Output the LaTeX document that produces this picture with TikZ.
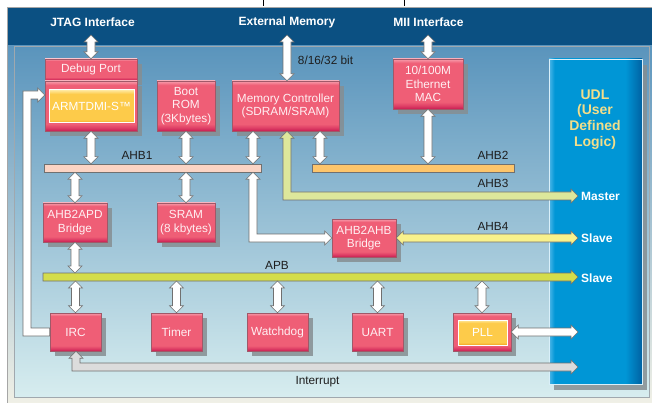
\documentclass[tikz,border=0pt]{standalone}
\usepackage{fontspec}
\setmainfont{Liberation Sans}
\usetikzlibrary{calc,shadows}

\definecolor{outerblue}{HTML}{0B5082}
\definecolor{bgtop}{HTML}{5A94BC}
\definecolor{bgmid}{HTML}{A0CDE0}
\definecolor{bgbot}{HTML}{D7EDEF}
\definecolor{mgtop}{HTML}{5D96BE}
\definecolor{mgmid}{HTML}{B5D5DC}
\definecolor{mgbot}{HTML}{F0F0E6}
\definecolor{framegray}{HTML}{A0A8AE}
\definecolor{ahbone}{HTML}{FBD4C4}
\definecolor{ahbtwo}{HTML}{FDC56B}
\definecolor{ahbthree}{HTML}{DDE79B}
\definecolor{ahbfour}{HTML}{F8F18C}
\definecolor{apbc}{HTML}{D4DD4B}
\definecolor{intgray}{HTML}{DCDCDC}
\definecolor{arrowline}{HTML}{707070}
\definecolor{rlight}{HTML}{F7A0AE}
\definecolor{rmid}{HTML}{EF5E76}
\definecolor{rmidb}{HTML}{DC3C64}
\definecolor{rdark}{HTML}{C81D52}
\definecolor{rborder}{HTML}{A05868}
\definecolor{ylight}{HTML}{FFE9A0}
\definecolor{ymid}{HTML}{FDCB4A}
\definecolor{ydark}{HTML}{F0A01E}
\definecolor{ulight}{HTML}{4DB6E8}
\definecolor{umid}{HTML}{0096D6}
\definecolor{udark}{HTML}{0062A3}
\definecolor{shadowc}{HTML}{868E92}
\definecolor{boxtext}{HTML}{FFEFF2}
\definecolor{udltextc}{HTML}{F2DE8A}
\definecolor{labeltext}{HTML}{1E1E1E}

\pgfdeclareverticalshading{redshade}{100bp}{color(0bp)=(rdark); color(25bp)=(rdark); color(28bp)=(rmidb); color(32bp)=(rmid); color(71bp)=(rmid); color(75bp)=(rlight); color(100bp)=(rlight)}
\pgfdeclareverticalshading{yelshade}{100bp}{color(0bp)=(ydark); color(25bp)=(ydark); color(30bp)=(ymid); color(69bp)=(ymid); color(75bp)=(ylight); color(100bp)=(ylight)}
\pgfdeclarehorizontalshading{udlshade}{100bp}{color(0bp)=(ulight); color(25bp)=(ulight); color(28bp)=(umid); color(66bp)=(umid); color(75bp)=(udark); color(100bp)=(udark)}

\newcommand{\boxfont}{\fontsize{11.8pt}{13.6pt}\selectfont}
\newcommand{\boldlab}{\fontsize{12pt}{14pt}\selectfont\bfseries}

\tikzset{
  redbox/.style={shade, shading=redshade, draw=rborder, line width=0.5pt,
    text=boxtext, font=\boxfont, align=center, inner sep=0pt,
    general shadow={fill=shadowc, fill opacity=0.85, shadow xshift=5pt, shadow yshift=-5pt}},
  yelbox/.style={shade, shading=yelshade, draw=white, line width=1pt,
    text=white, font=\boxfont, align=center, inner sep=0pt},
  udlbox/.style={shade, shading=udlshade, draw=white!85!umid, line width=0.8pt, inner sep=0pt,
    general shadow={fill=shadowc, fill opacity=0.85, shadow xshift=5pt, shadow yshift=-6pt}},
  busbar/.style={draw=arrowline, line width=0.6pt, inner sep=0pt, minimum height=8pt},
  fatline/.style={draw=arrowline, line width=0.6pt, line join=miter},
  buslabel/.style={text=labeltext, font=\boxfont, inner sep=0pt},
  toplabel/.style={text=white, font=\boldlab, inner sep=0pt},
  udllabel/.style={text=white, font=\boldlab, inner sep=0pt, anchor=west},
  udltext/.style={text=udltextc, font=\fontsize{14pt}{15.8pt}\selectfont\bfseries, align=center, inner sep=0pt}
}

% vertical double arrow: #2 top tip, #3 bottom tip
\newcommand{\fatV}[3][white]{\draw[fatline,fill=#1] let \p1=(#2), \p2=(#3) in
  (\x1,\y1) -- (\x1+7pt,\y1-7pt) -- (\x1+4pt,\y1-7pt) -- (\x1+4pt,\y2+7pt) -- (\x1+7pt,\y2+7pt) -- (\x1,\y2)
  -- (\x1-7pt,\y2+7pt) -- (\x1-4pt,\y2+7pt) -- (\x1-4pt,\y1-7pt) -- (\x1-7pt,\y1-7pt) -- cycle;}
% horizontal double arrow: #2 left tip, #3 right tip
\newcommand{\fatH}[3][white]{\draw[fatline,fill=#1] let \p1=(#2), \p2=(#3) in
  (\x1,\y1) -- (\x1+7pt,\y1+7pt) -- (\x1+7pt,\y1+4pt) -- (\x2-7pt,\y1+4pt) -- (\x2-7pt,\y1+7pt) -- (\x2,\y1)
  -- (\x2-7pt,\y1-7pt) -- (\x2-7pt,\y1-4pt) -- (\x1+7pt,\y1-4pt) -- (\x1+7pt,\y1-7pt) -- cycle;}
% flat start, arrow to the right
\newcommand{\fatR}[3][white]{\draw[fatline,fill=#1] let \p1=(#2), \p2=(#3) in
  (\x1,\y1+4pt) -- (\x2-7pt,\y1+4pt) -- (\x2-7pt,\y1+7pt) -- (\x2,\y1) -- (\x2-7pt,\y1-7pt) -- (\x2-7pt,\y1-4pt) -- (\x1,\y1-4pt) -- cycle;}
% up-head at #2, down to the level of #3, then right to tip #3
\newcommand{\fatDR}[3][white]{\draw[fatline,fill=#1] let \p1=(#2), \p2=(#3) in
  (\x1,\y1) -- (\x1+7pt,\y1-7pt) -- (\x1+4pt,\y1-7pt) -- (\x1+4pt,\y2+4pt) -- (\x2-7pt,\y2+4pt) -- (\x2-7pt,\y2+7pt)
  -- (\x2,\y2) -- (\x2-7pt,\y2-7pt) -- (\x2-7pt,\y2-4pt) -- (\x1-4pt,\y2-4pt) -- (\x1-4pt,\y1-7pt) -- (\x1-7pt,\y1-7pt) -- cycle;}
% flat start at #2, left to x of #3, up to level of #4, right to tip #4
\newcommand{\fatLU}[4][white]{\draw[fatline,fill=#1] let \p1=(#2), \p2=(#3), \p3=(#4) in
  (\x1,\y1+4pt) -- (\x2+4pt,\y1+4pt) -- (\x2+4pt,\y3-4pt) -- (\x3-7pt,\y3-4pt) -- (\x3-7pt,\y3-7pt) -- (\x3,\y3)
  -- (\x3-7pt,\y3+7pt) -- (\x3-7pt,\y3+4pt) -- (\x2-4pt,\y3+4pt) -- (\x2-4pt,\y1-4pt) -- (\x1,\y1-4pt) -- cycle;}

\begin{document}
\begin{tikzpicture}[x=1pt,y=-1pt]
\useasboundingbox (0,0) rectangle (652,403);
\fill[white] (0,0) rectangle (652,403);
\draw[black, line width=0.8pt] (263,0) -- (263,6.5);
\draw[black, line width=0.8pt] (404,0) -- (404,6.5);

% frames
\fill[outerblue] (7,7) rectangle (652,46);
\shade[top color=mgtop, middle color=mgmid, bottom color=mgbot] (7,46) rectangle (652,403);
\draw[gray!70, line width=0.6pt] (7,403) -- (7,7) -- (652,7);
\shadedraw[top color=bgtop, middle color=bgmid, bottom color=bgbot, draw=framegray, line width=0.6pt] (14,46) rectangle (649,397);

% top labels
\node[toplabel] (jtag) at (92.5,22) {JTAG Interface};
\node[toplabel] (extmem) at (287,22) {External Memory};
\node[toplabel] (mii) at (428.5,22) {MII Interface};
\node[buslabel] (width) at (325.5,60) {8/16/32 bit};

% UDL
\node[udlbox, minimum width=93pt, minimum height=325pt] (udl) at (595.5,221.5) {};
\node[udltext] (udltxt) at (595,119.5) {UDL\\(User\\Defined\\Logic)};

% boxes
\node[redbox, minimum width=92pt, minimum height=21pt] (debug) at (91,69.5) {Debug Port};
\node[redbox, minimum width=92pt, minimum height=50pt] (arm) at (91,106) {};
\node[yelbox, minimum width=85pt, minimum height=33pt] (armcore) at (91.5,106.5) {ARMTDMI-S™};
\node[redbox, minimum width=58pt, minimum height=50pt] (bootrom) at (186,106) {Boot\\ROM\\(3Kbytes)};
\node[redbox, minimum width=107pt, minimum height=50pt] (memctrl) at (285.5,106) {Memory Controller\\(SDRAM/SRAM)};
\node[redbox, minimum width=70pt, minimum height=50pt] (mac) at (428,84) {10/100M\\Ethernet\\MAC};
\node[redbox, minimum width=64pt, minimum height=39pt] (apd) at (75,222.5) {AHB2APD\\Bridge};
\node[redbox, minimum width=58pt, minimum height=39pt] (sram) at (186,222.5) {SRAM\\(8 kbytes)};
\node[redbox, minimum width=64pt, minimum height=38pt] (bridge) at (364,238) {AHB2AHB\\Bridge};
\node[redbox, minimum width=51pt, minimum height=38pt] (irc) at (75.5,332) {IRC};
\node[redbox, minimum width=51pt, minimum height=38pt] (timer) at (176.5,332) {Timer};
\node[redbox, minimum width=61pt, minimum height=38pt] (watchdog) at (277.5,332) {Watchdog};
\node[redbox, minimum width=51pt, minimum height=38pt] (uart) at (377.5,332) {UART};
\node[redbox, minimum width=58pt, minimum height=38pt] (pll) at (482,332) {};
\node[yelbox, minimum width=49pt, minimum height=25pt] (pllcore) at (482.5,332.5) {PLL};

% buses
\node[busbar, fill=ahbone, minimum width=217pt] (ahb1) at (152.5,168) {};
\node[busbar, fill=ahbtwo, minimum width=202pt] (ahb2) at (413,168) {};
\coordinate (apbL) at (43,277);
\coordinate (apbR) at (578,277);
\coordinate (apbtop) at (43,273);
\coordinate (apbbot) at (43,281);
\fatR[apbc]{apbL}{apbR}

% helper coordinates
\coordinate (jtagpt) at (91,35);
\coordinate (extpt) at (287,35);
\coordinate (miipt) at (428,35);
\coordinate (xa) at (253,0);
\coordinate (xb) at (320,0);
\coordinate (xc) at (287,0);
\coordinate (xi) at (76,0);
\coordinate (xl) at (27,0);
\coordinate (yl) at (0,95);
\coordinate (udlM) at (578,196);
\coordinate (udlS) at (578,238);
\coordinate (udlP) at (578,332);
\coordinate (udlI) at (578,367);

% vertical arrows
\fatV{jtagpt}{jtagpt |- debug.north}
\fatV{extpt}{extpt |- memctrl.north}
\fatV{miipt}{mac.north}
\fatV{arm.south}{arm.south |- ahb1.north}
\fatV{bootrom.south}{bootrom.south |- ahb1.north}
\fatV{memctrl.south -| xa}{ahb1.north -| xa}
\fatV{memctrl.south -| xb}{ahb2.north -| xb}
\fatV{mac.south}{mac.south |- ahb2.north}
\fatV{ahb1.south -| apd.north}{apd.north}
\fatV{ahb1.south -| sram.north}{sram.north}
\fatV{apd.south}{apd.south |- apbtop}
\fatV{irc.north |- apbbot}{irc.north}
\fatV{timer.north |- apbbot}{timer.north}
\fatV{watchdog.north |- apbbot}{watchdog.north}
\fatV{uart.north |- apbbot}{uart.north}
\fatV{pll.north |- apbbot}{pll.north}

% bent and horizontal arrows
\fatDR[ahbthree]{memctrl.south -| xc}{udlM}
\fatDR[white]{ahb1.south -| xa}{bridge.west}
\fatDR[intgray]{irc.south -| xi}{udlI}
\fatH[ahbfour]{bridge.east}{udlS}
\fatH[white]{pll.east}{udlP}
\fatLU{irc.west}{xl}{arm.west |- yl}

% bus labels
\node[buslabel] (ahb1lbl) at (137,155) {AHB1};
\node[buslabel] (ahb2lbl) at (493,155) {AHB2};
\node[buslabel] (ahb3lbl) at (493,183) {AHB3};
\node[buslabel] (ahb4lbl) at (493,226) {AHB4};
\node[buslabel] (apblbl) at (277,265) {APB};
\node[buslabel] (intlbl) at (317.5,382) {Interrupt};
\node[udllabel] (master) at (581,196.5) {Master};
\node[udllabel] (slave1) at (581,238.5) {Slave};
\node[udllabel] (slave2) at (581,278.5) {Slave};
\end{tikzpicture}
\end{document}
